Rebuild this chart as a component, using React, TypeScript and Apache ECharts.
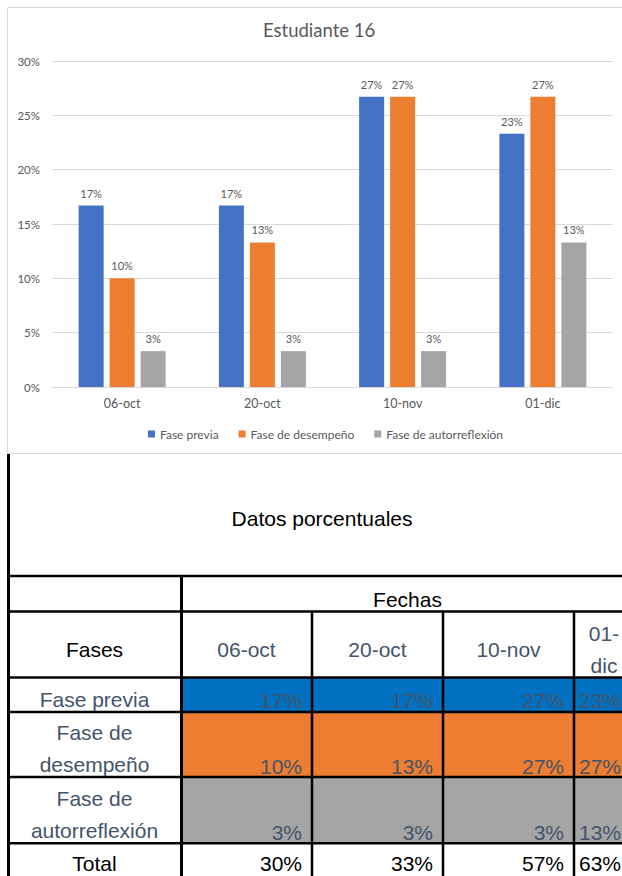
import React, { useEffect, useRef } from "react";
import * as echarts from "echarts";

// ---- Data ----
const dates = ["06-oct", "20-oct", "10-nov", "01-dic"];
const tableDateLabels = ["06-oct", "20-oct", "10-nov", "01-\ndic"];
const seriesNames = ["Fase previa", "Fase de desempeño", "Fase de autorreflexión"];
const tablePhaseLabels = ["Fase previa", "Fase de\ndesempeño", "Fase de\nautorreflexión"];
const fasePrevia = [16.7, 16.7, 26.7, 23.3];
const faseDesempeno = [10, 13.3, 26.7, 26.7];
const faseAutorreflexion = [3.3, 3.3, 3.3, 13.3];
const totals = [30, 33, 57, 63];
const chartColors = ["#4472C4", "#ED7D31", "#A5A5A5"];
const cellColors = ["#0070C0", "#ED7D31", "#A5A5A5"];

const CHART_FONT = "Lato";
const TABLE_FONT = "'Liberation Sans', Arial, sans-serif";
const SLATE = "#44546A";

function buildTable(): any[] {
  const els: any[] = [];
  const colsX = [8, 181, 312, 443, 574, 634];
  const rowsY = [576, 611.5, 677.5, 712, 777, 843.3, 880];
  const phaseValues = [fasePrevia, faseDesempeno, faseAutorreflexion];
  const fs = 21;
  const font = (color: string) => ({ fill: color, fontSize: fs, fontFamily: TABLE_FONT });
  // right edge of the value text in each date column (last column is cut by the page edge)
  const valueRight = (c: number) => (c === dates.length - 1 ? 621 : colsX[c + 2] - 10);

  // colored cells
  phaseValues.forEach((_, r) => {
    dates.forEach((__, c) => {
      els.push({
        type: "rect",
        shape: { x: colsX[c + 1], y: rowsY[r + 2], width: colsX[c + 2] - colsX[c + 1], height: rowsY[r + 3] - rowsY[r + 2] },
        style: { fill: cellColors[r] },
        z: 1,
      });
    });
  });

  // lines
  const line = (x1: number, y1: number, x2: number, y2: number, w = 2.5) =>
    els.push({ type: "line", shape: { x1, y1, x2, y2 }, style: { stroke: "#000", lineWidth: w }, z: 5 });
  line(8.5, 454, 8.5, 880, 3);
  [576, 611.5, 677.5, 712, 777, 843.3].forEach((y) => line(7, y, 640, y));
  line(181.5, 576, 181.5, 880, 3);
  [312, 443, 574].forEach((x) => line(x, 611.5, x, 880));

  // texts
  const text = (x: number, y: number, t: string, color: string, align = "center", lh = 32) =>
    els.push({
      type: "text",
      x,
      y,
      z: 6,
      style: { ...font(color), text: t, align, verticalAlign: "middle", lineHeight: lh },
    });
  text(322, 518, "Datos porcentuales", "#000");
  text(407.5, 599, "Fechas", "#000");
  text(94.5, 649, "Fases", "#000");
  tableDateLabels.forEach((d, c) => text((colsX[c + 1] + colsX[c + 2]) / 2, 649, d, SLATE));
  const leftCenters = [699.5, 748.5, 814];
  const valueY = [700, 766.5, 832];
  tablePhaseLabels.forEach((p, r) => text(94.5, leftCenters[r], p, SLATE));
  phaseValues.forEach((vals, r) => {
    vals.forEach((v, c) => text(valueRight(c), valueY[r], Math.round(v) + "%", SLATE, "right"));
  });
  text(94.5, 863.5, "Total", "#000", "center", 22);
  totals.forEach((t, c) => text(valueRight(c), 863.5, t + "%", "#000", "right", 22));
  return els;
}

export default function App() {
  const ref = useRef<HTMLDivElement>(null);
  useEffect(() => {
    if (!ref.current) return;
    const chart = echarts.init(ref.current, null, { renderer: "svg" });
    const seriesData = [fasePrevia, faseDesempeno, faseAutorreflexion];
    chart.setOption({
      animation: false,
      backgroundColor: "#fff",
      title: {
        text: "Estudiante 16",
        left: 263,
        top: 20,
        padding: 0,
        textStyle: { fontFamily: CHART_FONT, fontSize: 18.5, fontWeight: "normal", color: "#595959" },
      },
      legend: {
        data: seriesNames,
        left: 143,
        top: 423,
        icon: "rect",
        itemWidth: 7,
        itemHeight: 7,
        itemGap: 20,
        textStyle: { fontFamily: CHART_FONT, fontSize: 12, color: "#595959" },
      },
      grid: { left: 52, top: 61, width: 561, height: 326, containLabel: false },
      xAxis: {
        type: "category",
        data: dates,
        axisLine: { lineStyle: { color: "#d9d9d9" } },
        axisTick: { show: false },
        axisLabel: { fontFamily: CHART_FONT, fontSize: 12.5, color: "#595959", margin: 10 },
      },
      yAxis: {
        type: "value",
        min: 0,
        max: 30,
        interval: 5,
        axisLine: { show: false },
        axisTick: { show: false },
        splitLine: { lineStyle: { color: "#d9d9d9" } },
        axisLabel: { formatter: "{value}%", fontFamily: CHART_FONT, fontSize: 11.5, color: "#595959", margin: 12 },
      },
      series: seriesData.map((d, i) => ({
        name: seriesNames[i],
        type: "bar",
        data: d,
        barWidth: 25,
        barGap: "24%",
        itemStyle: { color: chartColors[i] },
        label: {
          show: true,
          position: "top",
          distance: 7,
          fontFamily: CHART_FONT,
          fontSize: 11,
          color: "#595959",
          formatter: (p: any) => Math.round(p.value) + "%",
        },
      })),
      graphic: [
        {
          type: "rect",
          shape: { x: 7.5, y: 7.5, width: 700, height: 446 },
          style: { fill: "none", stroke: "#d9d9d9", lineWidth: 1 },
          z: -1,
        },
        ...buildTable(),
      ],
    });
    return () => chart.dispose();
  }, []);
  return (
    <div
      ref={ref}
      style={{ position: "fixed", left: 0, top: 0, width: 622, height: 876, background: "#fff" }}
    />
  );
}
